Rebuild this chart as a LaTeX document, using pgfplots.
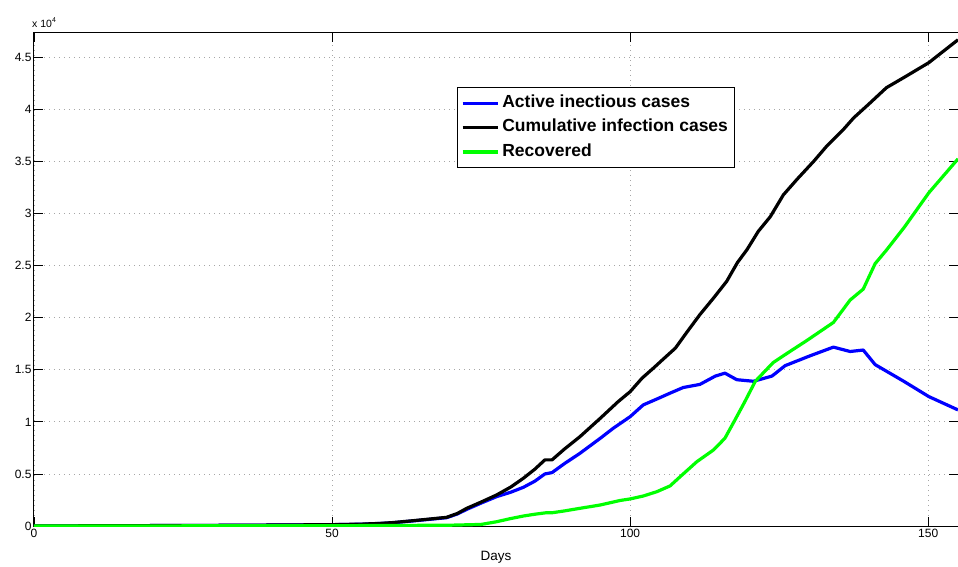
\documentclass[border=0pt]{standalone}
\usepackage{fontspec}
\setmainfont{Liberation Sans}
\usepackage{pgfplots}
\pgfplotsset{compat=1.18}
\usetikzlibrary{calc}
\definecolor{mblue}{rgb}{0,0,1}
\definecolor{mgreen}{rgb}{0,1,0}
\begin{document}
\begin{tikzpicture}
\begin{axis}[
  name=ax,
  scale only axis,
  width=924pt, height=493pt,
  xmin=0, xmax=155, ymin=0, ymax=47350,
  xtick={0,50,100,150},
  ytick={0,5000,10000,15000,20000,25000,30000,35000,40000,45000},
  scaled y ticks=base 10:-4,
  ytick scale label code/.code={},
  /pgf/number format/assume math mode=true,
  yticklabel style={/pgf/number format/fixed, /pgf/number format/precision=1, xshift=1pt},
  tick label style={font=\fontsize{12}{14}\selectfont},
  grid=major,
  major grid style={gray!70, line width=0.8pt, dash pattern=on 0.8pt off 4.2pt},
  axis line style={black, line width=1pt},
  major tick length=9pt,
  tick style={black, line width=0.8pt},
  xlabel={Days},
  xlabel style={at={(axis description cs:0.5,0)}, anchor=base, yshift=-34.7pt, font=\fontsize{13.5}{15}\selectfont},
  legend cell align=left,
  legend image code/.code={\draw[#1] (0pt,0pt) -- (35pt,0pt);},
  legend style={at={(rel axis cs:0.458,0.89)}, anchor=north west,
    draw=black, line width=0.9pt, inner sep=3.5pt, row sep=0pt,
    font=\bfseries\fontsize{17.5}{20}\selectfont,
    nodes={inner ysep=4pt, inner xsep=3pt, text height=12.5pt, text depth=3.8pt}},
  every axis plot/.append style={line width=3.2pt, line join=round},
]
\addplot[mblue] coordinates {
(0,0) (10,20) (20,40) (30,60) (40,90) (50,125) (55,170) (58,240) (60,300)
(63.6,490) (66,620) (69.2,800) (71,1150) (72.6,1600) (75,2200) (77.6,2820)
(80,3250) (82.1,3720) (84,4300) (85.7,5000) (86.9,5130) (89,6000) (91.6,6990)
(95,8430) (97.2,9400) (100,10500) (102.2,11630) (104.5,12200) (106.7,12760)
(108.9,13300) (111.7,13600) (114.3,14400) (115.9,14680) (117.9,14050)
(120.7,13900) (123.8,14400) (126,15400) (130.2,16350) (134.1,17180)
(136.9,16760) (139.1,16900) (141.1,15500) (143.5,14700) (145.9,13900)
(150.1,12430) (155,11150)
};
\addlegendentry{Active inectious cases}
\addplot[black] coordinates {
(0,0) (10,20) (20,40) (30,60) (40,90) (50,130) (55,180) (58,250) (60,320)
(63.6,510) (66,650) (69.2,830) (71,1200) (72.6,1700) (75,2300) (77.6,2980)
(80,3750) (82.1,4590) (84,5450) (85.7,6350) (86.9,6350) (89,7400) (91.6,8590)
(95,10350) (98,11950) (100,12900) (102,14200) (103.9,15160) (105.5,16000)
(107.6,17090) (109.5,18600) (111.7,20300) (114,21900) (116.2,23500)
(118,25300) (119.6,26540) (121.5,28300) (123.5,29700) (125.7,31800)
(128,33300) (130.8,35030) (133,36500) (135.8,38100) (137.5,39200)
(140,40500) (143,42100) (146,43100) (150.1,44500) (155,46700)
};
\addlegendentry{Cumulative infection cases}
\addplot[mgreen] coordinates {
(0,0) (50,30) (60,50) (70,80) (75,150) (77.6,410) (80,720) (82.1,960)
(84,1130) (86,1280) (87,1280) (89,1450) (91.6,1700) (95,2020) (98.3,2450)
(100,2600) (102.2,2880) (104.5,3300) (106.7,3850) (108.4,4740) (111.2,6180)
(114,7310) (115.9,8430) (117.6,10200) (119.2,11900) (121,13900) (124,15700)
(126.8,16760) (129.6,17800) (134.1,19550) (136.9,21700) (139.1,22750)
(141.1,25200) (143,26500) (146,28700) (150.1,32000) (155,35260)
};
\addlegendentry{Recovered}
\end{axis}
\node[anchor=south west, inner sep=0pt, font=\fontsize{10.5}{12}\selectfont]
  at ($(ax.north west)+(-2pt,5pt)$) {x 10\raisebox{0.9ex}{\fontsize{7}{8}\selectfont 4}};
\pgfresetboundingbox
\path ($(ax.south west)+(-34pt,-40pt)$) rectangle ($(ax.north east)+(0pt,33pt)$);
\end{tikzpicture}
\end{document}
